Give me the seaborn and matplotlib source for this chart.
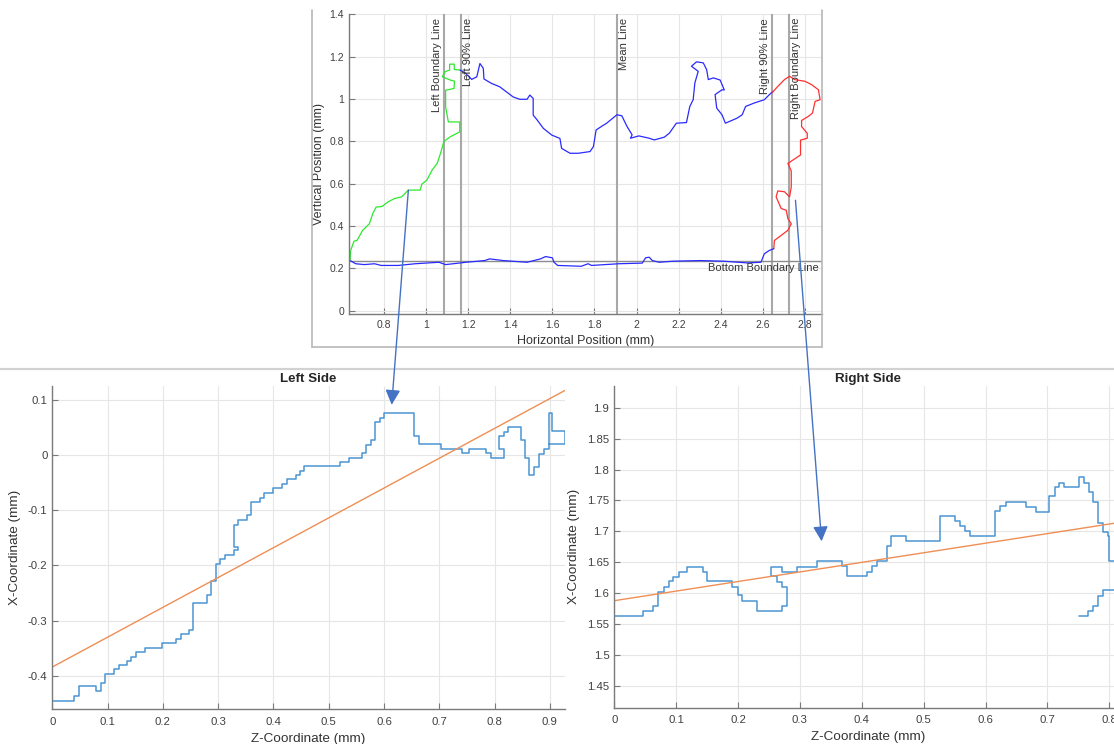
import numpy as np
import pandas as pd
import matplotlib
matplotlib.use("Agg")
import matplotlib.pyplot as plt
import seaborn as sns
from matplotlib.patches import ConnectionPatch
from matplotlib.lines import Line2D
from matplotlib.ticker import FuncFormatter, MultipleLocator

# ---------------- data: top profile (Horizontal / Vertical position, mm) ----------------
green_h = [0.639, 0.642, 0.658, 0.672, 0.699, 0.731, 0.747, 0.763, 0.79, 0.819, 0.85, 0.884,
           0.916, 0.972, 0.98, 1.004, 1.029, 1.053, 1.069, 1.085, 1.117, 1.16, 1.16, 1.106,
           1.093, 1.093, 1.133, 1.135, 1.115, 1.077, 1.09, 1.112, 1.112, 1.134, 1.134, 1.162]
green_v = [0.237, 0.285, 0.329, 0.332, 0.38, 0.411, 0.459, 0.49, 0.492, 0.514, 0.53, 0.538,
           0.57, 0.57, 0.598, 0.617, 0.665, 0.696, 0.744, 0.8, 0.823, 0.845, 0.892, 0.892,
           0.963, 1.042, 1.05, 1.085, 1.09, 1.105, 1.129, 1.137, 1.165, 1.165, 1.14, 1.137]

blue_top_h = [1.162, 1.185, 1.217, 1.241, 1.256, 1.272, 1.275, 1.311, 1.35, 1.382, 1.414, 1.445,
              1.48, 1.493, 1.509, 1.509, 1.525, 1.557, 1.597, 1.636, 1.644, 1.684, 1.724, 1.779,
              1.795, 1.808, 1.84, 1.858, 1.907, 1.93, 1.955, 1.979, 1.971, 2.011, 2.06, 2.084,
              2.132, 2.156, 2.189, 2.237, 2.253, 2.269, 2.277, 2.293, 2.261, 2.285, 2.317, 2.333,
              2.341, 2.365, 2.397, 2.417, 2.406, 2.373, 2.381, 2.406, 2.422, 2.478, 2.502, 2.518,
              2.558, 2.607, 2.631, 2.648]
blue_top_v = [1.137, 1.124, 1.093, 1.105, 1.168, 1.145, 1.095, 1.074, 1.058, 1.034, 1.01, 0.999,
              0.999, 1.019, 1.003, 0.924, 0.905, 0.862, 0.83, 0.814, 0.767, 0.744, 0.744, 0.752,
              0.775, 0.854, 0.875, 0.886, 0.926, 0.921, 0.87, 0.831, 0.815, 0.826, 0.815, 0.807,
              0.82, 0.839, 0.886, 0.889, 0.965, 0.997, 1.076, 1.131, 1.155, 1.176, 1.171, 1.139,
              1.092, 1.1, 1.09, 1.043, 1.044, 1.021, 0.957, 0.926, 0.886, 0.91, 0.926, 0.965,
              0.981, 0.997, 1.021, 1.036]

red_h = [2.645, 2.671, 2.703, 2.727, 2.751, 2.8, 2.832, 2.864, 2.872, 2.848, 2.836, 2.816, 2.784,
         2.784, 2.811, 2.811, 2.779, 2.779, 2.767, 2.743, 2.719, 2.735, 2.735, 2.727, 2.703, 2.671,
         2.663, 2.687, 2.711, 2.719, 2.735, 2.719, 2.687, 2.655, 2.652]
red_v = [1.031, 1.06, 1.092, 1.108, 1.092, 1.084, 1.068, 1.044, 0.997, 0.989, 0.934, 0.918, 0.899,
         0.87, 0.838, 0.815, 0.806, 0.736, 0.728, 0.712, 0.696, 0.66, 0.585, 0.538, 0.562, 0.566,
         0.538, 0.483, 0.475, 0.435, 0.411, 0.38, 0.356, 0.332, 0.293]

blue_bot_h = [2.652, 2.631, 2.607, 2.591, 2.526, 2.413, 2.301, 2.172, 2.108, 2.075, 2.06, 2.043,
              2.027, 1.915, 1.786, 1.77, 1.737, 1.625, 1.608, 1.6, 1.568, 1.544, 1.48, 1.367,
              1.302, 1.278, 1.19, 1.093, 1.061, 0.948, 0.868, 0.787, 0.755, 0.707, 0.666, 0.639]
blue_bot_v = [0.293, 0.285, 0.269, 0.229, 0.226, 0.234, 0.237, 0.234, 0.229, 0.237, 0.253, 0.25,
              0.225, 0.222, 0.214, 0.222, 0.21, 0.214, 0.229, 0.25, 0.256, 0.245, 0.229, 0.237,
              0.245, 0.237, 0.229, 0.218, 0.229, 0.222, 0.214, 0.214, 0.222, 0.218, 0.222, 0.237]

ref_line_pos = [1.085, 1.167, 1.908, 2.643, 2.725]
ref_line_names = ["Left Boundary Line", "Left 90% Line", "Mean Line", "Right 90% Line", "Right Boundary Line"]
ref_line_side = ["left", "right", "right", "left", "right"]
bottom_line_y = 0.237
bottom_line_name = "Bottom Boundary Line"

# ---------------- data: left side (steps) ----------------
left_z = [0, 0.0395, 0.048, 0.079, 0.0876, 0.0955, 0.112, 0.12, 0.135, 0.143, 0.151, 0.168, 0.199,
          0.224, 0.232, 0.247, 0.255, 0.28, 0.288, 0.296, 0.304, 0.313, 0.328, 0.336, 0.328, 0.336,
          0.352, 0.36, 0.375, 0.383, 0.4, 0.416, 0.425, 0.44, 0.448, 0.456, 0.52, 0.537, 0.56, 0.567,
          0.576, 0.584, 0.592, 0.6, 0.655, 0.663, 0.703, 0.742, 0.753, 0.785, 0.793, 0.817, 0.808,
          0.817, 0.825, 0.847, 0.855, 0.863, 0.871, 0.88, 0.889, 0.898, 0.927, 0.904, 0.898]
left_x = [-0.445, -0.436, -0.419, -0.428, -0.413, -0.397, -0.387, -0.38, -0.373, -0.365, -0.356,
          -0.349, -0.341, -0.333, -0.325, -0.317, -0.268, -0.253, -0.229, -0.197, -0.189, -0.181,
          -0.172, -0.166, -0.126, -0.117, -0.109, -0.085, -0.077, -0.069, -0.06, -0.053, -0.044,
          -0.036, -0.029, -0.02, -0.012, -0.005, 0.003, 0.019, 0.027, 0.059, 0.067, 0.0758, 0.035,
          0.02, 0.011, 0.0042, 0.011, 0.0042, -0.005, 0.011, 0.035, 0.042, 0.0515, 0.027, -0.006,
          -0.036, -0.021, 0.0018, 0.0103, 0.02, 0.0436, 0.0758, 0.02]
fit_left_z = [0.0, 0.9275]
fit_left_x = [-0.384, 0.117]

# ---------------- data: right side (steps) ----------------
right_z = [0, 0.047, 0.063, 0.071, 0.08, 0.089, 0.095, 0.104, 0.118, 0.144, 0.15, 0.191, 0.2, 0.207,
           0.231, 0.271, 0.279, 0.271, 0.263, 0.254, 0.271, 0.295, 0.328, 0.368, 0.376, 0.408, 0.416,
           0.424, 0.44, 0.447, 0.471, 0.527, 0.55, 0.558, 0.566, 0.575, 0.6154, 0.6235, 0.6332, 0.665,
           0.6812, 0.7032, 0.7124, 0.7194, 0.727, 0.7517, 0.7593, 0.7669, 0.7743, 0.7824, 0.7905,
           0.7986, 0.80, 0.83, 0.7905, 0.7824, 0.7743, 0.7662, 0.7517]
right_x = [1.563, 1.571, 1.579, 1.602, 1.61, 1.619, 1.627, 1.634, 1.643, 1.634, 1.619, 1.61, 1.597,
           1.587, 1.571, 1.579, 1.61, 1.618, 1.628, 1.643, 1.634, 1.643, 1.6516, 1.6436, 1.6274, 1.635,
           1.6436, 1.6516, 1.6758, 1.692, 1.684, 1.7242, 1.716, 1.708, 1.7, 1.692, 1.7323, 1.7403,
           1.7468, 1.7393, 1.7313, 1.7565, 1.7716, 1.779, 1.7716, 1.7877, 1.779, 1.7635, 1.7474,
           1.7135, 1.6984, 1.692, 1.6516, 1.605, 1.595, 1.579, 1.571, 1.563, 1.563]
fit_right_z = [0.0, 0.82]
fit_right_x = [1.588, 1.715]

# arrows: (top-chart point) -> (lower-chart point)
arrow_left_from = (0.916, 0.57)
arrow_left_to = (0.614, 0.091)
arrow_right_from = (2.755, 0.522)
arrow_right_to = (0.335, 1.684)

# ---------------- styling ----------------
sns.set_theme(style="white")
plt.rcParams['font.family'] = ['Liberation Sans', 'DejaVu Sans']
plt.rcParams['axes.unicode_minus'] = False

W, H = 1114, 744
fig = plt.figure(figsize=(W / 100, H / 100), dpi=100)
fig.patch.set_facecolor('white')


def px_rect(l, t, r, b):
    return [l / W, 1 - b / H, (r - l) / W, (b - t) / H]


ax_top = fig.add_axes(px_rect(349, 14.4, 822, 313.7))
ax_l = fig.add_axes(px_rect(52.3, 386, 565, 709.3))
ax_r = fig.add_axes(px_rect(614.3, 386, 1121.7, 707.7))

fmt = FuncFormatter(lambda v, p: f"{round(v, 6) + 0:g}")
TXT = '#333333'


def style(ax, fs, xpad):
    for s in ['top', 'right']:
        ax.spines[s].set_visible(False)
    for s in ['left', 'bottom']:
        ax.spines[s].set_color('#7a7a7a')
        ax.spines[s].set_linewidth(1.0)
    ax.tick_params(direction='in', length=4, width=0.8, color='#7a7a7a',
                   labelsize=fs, labelcolor='#404040', pad=3.5,
                   bottom=True, left=True)
    ax.tick_params(axis='x', pad=xpad)
    ax.grid(True, color='#e6e6e6', lw=0.8)
    ax.set_axisbelow(True)
    ax.xaxis.set_major_formatter(fmt)
    ax.yaxis.set_major_formatter(fmt)
    ax.set_facecolor('white')


def draw(ax, x, y, color, lw, steps=False):
    df = pd.DataFrame({'x': x, 'y': y})
    kw = dict(drawstyle='steps-post') if steps else {}
    sns.lineplot(data=df, x='x', y='y', ax=ax, sort=False, estimator=None,
                 color=color, lw=lw, legend=False, **kw)


# ---- top chart ----
style(ax_top, 7.5, 4.2)
draw(ax_top, green_h, green_v, '#2ee82e', 0.9)
draw(ax_top, blue_top_h, blue_top_v, '#2a2aff', 0.9)
draw(ax_top, red_h, red_v, '#ff3030', 0.9)
draw(ax_top, blue_bot_h, blue_bot_v, '#2a2aff', 0.9)
for xp, name, side in zip(ref_line_pos, ref_line_names, ref_line_side):
    ax_top.axvline(xp, color='#a8a8a8', lw=1.5, zorder=1)
    off = -1.5 if side == 'left' else 1.5
    ax_top.annotate(name, (xp, 1.383), xytext=(off, 0), textcoords='offset points',
                    rotation=90, ha='right' if side == 'left' else 'left', va='top',
                    fontsize=8, color=TXT)
ax_top.axhline(bottom_line_y, color='#8c8c8c', lw=1.0, zorder=1)
ax_top.annotate(bottom_line_name, (2.866, bottom_line_y), xytext=(0, -2), textcoords='offset points',
                ha='right', va='top', fontsize=8, color=TXT)
ax_top.set_xlim(0.634, 2.881)
ax_top.set_ylim(-0.014, 1.4)
ax_top.xaxis.set_major_locator(MultipleLocator(0.2))
ax_top.yaxis.set_major_locator(MultipleLocator(0.2))
ax_top.set_xlabel('Horizontal Position (mm)', fontsize=9, color=TXT, labelpad=4)
ax_top.set_ylabel('Vertical Position (mm)', fontsize=9, color=TXT, labelpad=3)

# ---- left side ----
style(ax_l, 8.2, 5.5)
draw(ax_l, left_z, left_x, '#4b95d3', 1.1, steps=True)
draw(ax_l, fit_left_z, fit_left_x, '#ef8e55', 1.0)
ax_l.set_xlim(0, 0.9275)
ax_l.set_ylim(-0.4606, 0.125)
ax_l.xaxis.set_major_locator(MultipleLocator(0.1))
ax_l.yaxis.set_major_locator(MultipleLocator(0.1))
ax_l.set_xlabel('Z-Coordinate (mm)', fontsize=9.7, color=TXT, labelpad=4.5)
ax_l.set_ylabel('X-Coordinate (mm)', fontsize=9.7, color=TXT, labelpad=5)
ax_l.set_title('Left Side', fontsize=9.6, fontweight='bold', color='#262626', pad=3)

# ---- right side ----
style(ax_r, 8.2, 5.5)
draw(ax_r, right_z, right_x, '#4b95d3', 1.1, steps=True)
draw(ax_r, fit_right_z, fit_right_x, '#ef8e55', 1.0)
ax_r.set_xlim(0, 0.82)
ax_r.set_ylim(1.415, 1.935)
ax_r.xaxis.set_major_locator(MultipleLocator(0.1))
ax_r.yaxis.set_major_locator(MultipleLocator(0.05))
ax_r.set_xlabel('Z-Coordinate (mm)', fontsize=9.7, color=TXT, labelpad=4)
ax_r.set_ylabel('X-Coordinate (mm)', fontsize=9.7, color=TXT, labelpad=5)
ax_r.set_title('Right Side', fontsize=9.6, fontweight='bold', color='#262626', pad=3)

# ---- frame around the top chart and separator ----
frame_kw = dict(color='#b8b8b8', lw=1.2, transform=fig.transFigure)
fig.add_artist(Line2D([311.7 / W] * 2, [1 - 10 / H, 1 - 346.7 / H], **frame_kw))
fig.add_artist(Line2D([822.3 / W] * 2, [1 - 10 / H, 1 - 346.7 / H], **frame_kw))
fig.add_artist(Line2D([311.7 / W, 822.3 / W], [1 - 346.7 / H] * 2, **frame_kw))
fig.add_artist(Line2D([0, 1], [1 - 369.5 / H] * 2, color='#d2d2d2', lw=1.6, transform=fig.transFigure))

# ---- arrows ----
for a_from, a_to, ax_to in [(arrow_left_from, arrow_left_to, ax_l),
                            (arrow_right_from, arrow_right_to, ax_r)]:
    cp = ConnectionPatch(xyA=a_from, coordsA=ax_top.transData, xyB=a_to, coordsB=ax_to.transData,
                         arrowstyle='-|>,head_length=0.9,head_width=0.45', mutation_scale=10,
                         color='#4472c4', lw=1.0, shrinkA=0, shrinkB=0, zorder=20)
    cp.set_clip_on(False)
    fig.add_artist(cp)

fig.savefig('out.png', dpi=100, facecolor='white')
